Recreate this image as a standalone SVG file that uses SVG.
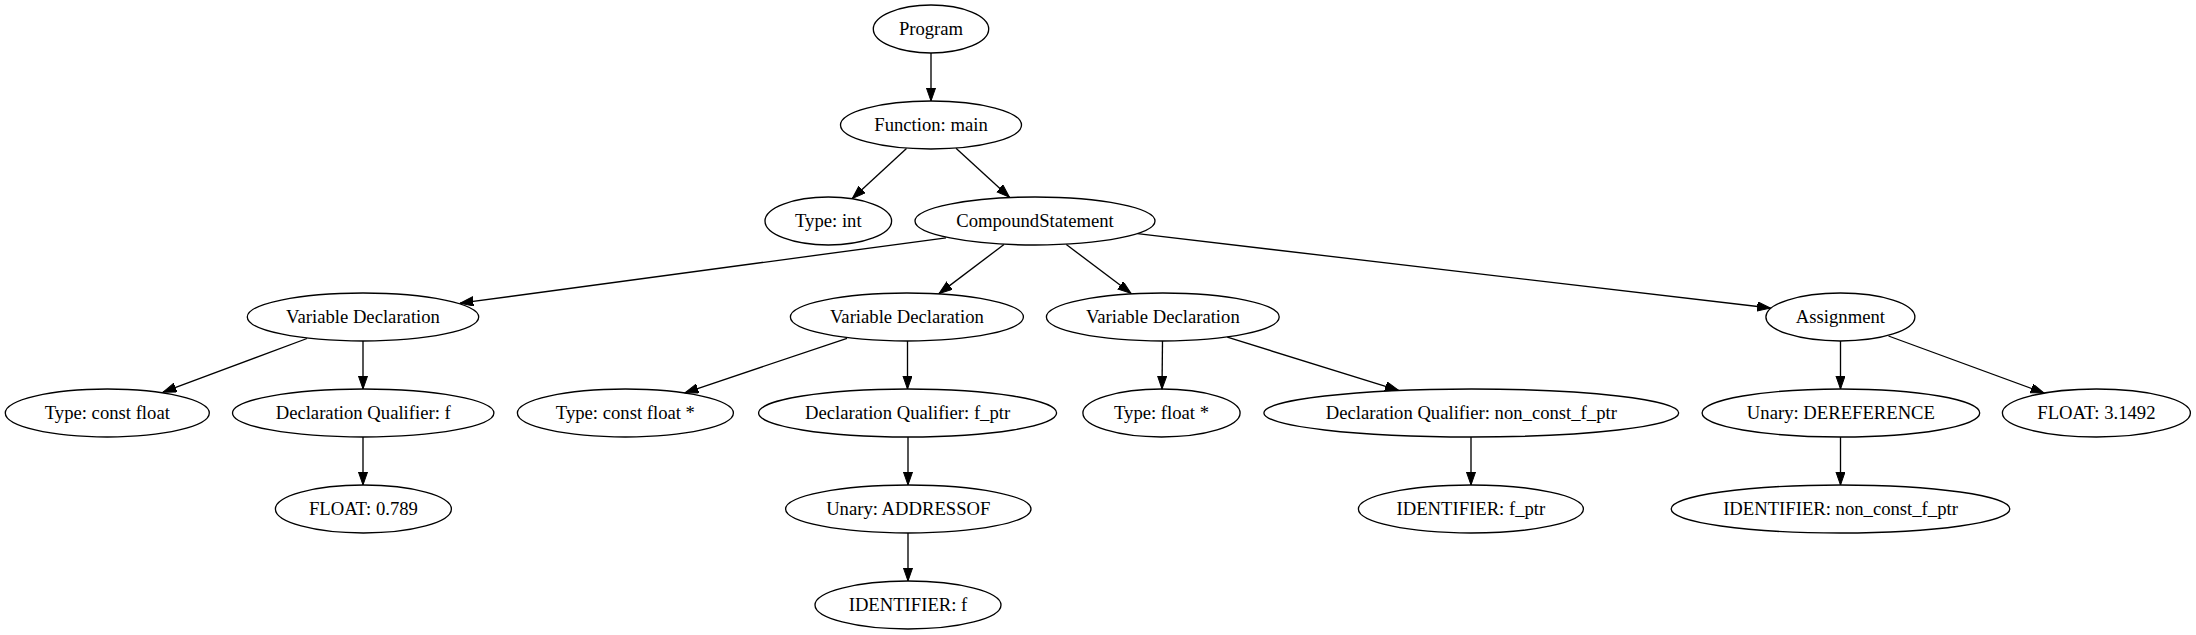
<svg xmlns="http://www.w3.org/2000/svg" width="2196" height="635" viewBox="0 0 2196 635">
<style>
.n ellipse{fill:none;stroke:#000;stroke-width:1.33}
.n text{font-family:"Liberation Serif","Times New Roman",serif;font-size:18.67px;text-anchor:middle;fill:#000}
#edges line{stroke:#000;stroke-width:1.33;marker-end:url(#ah)}
</style>
<defs>
<marker id="ah" markerUnits="userSpaceOnUse" markerWidth="14" markerHeight="10" refX="13.3" refY="4.67" orient="auto">
<path d="M0,0 L13.3,4.67 L0,9.33 z" fill="#000" stroke="#000" stroke-width="1"/>
</marker>
</defs>
<rect width="2196" height="635" fill="#fff"/>
<g id="edges">
<line x1="931" y1="53" x2="931" y2="101"/>
<line x1="906.5" y1="148.5" x2="852.3" y2="198.5"/>
<line x1="956" y1="148.3" x2="1009.5" y2="197.2"/>
<line x1="946" y1="237.8" x2="460" y2="303.2"/>
<line x1="1004" y1="244.5" x2="939" y2="293.6"/>
<line x1="1066.3" y1="244.5" x2="1131" y2="293.3"/>
<line x1="1137.5" y1="233.7" x2="1770.5" y2="308"/>
<line x1="307" y1="338.5" x2="163" y2="392.2"/>
<line x1="363" y1="341" x2="363" y2="389"/>
<line x1="363" y1="437" x2="363" y2="485"/>
<line x1="847" y1="338.3" x2="685" y2="392.8"/>
<line x1="907.5" y1="341" x2="907.5" y2="389"/>
<line x1="908" y1="437" x2="908" y2="485"/>
<line x1="908" y1="533" x2="908" y2="581"/>
<line x1="1162.5" y1="341" x2="1162" y2="389"/>
<line x1="1227.3" y1="337.2" x2="1398.5" y2="390.3"/>
<line x1="1471" y1="437" x2="1471" y2="485"/>
<line x1="1840.5" y1="341" x2="1840.5" y2="389"/>
<line x1="1888.5" y1="336" x2="2044" y2="393"/>
<line x1="1840.5" y1="437" x2="1840.5" y2="485"/>
</g>
<g id="n_program" class="n"><ellipse cx="931" cy="29" rx="57.7" ry="24"/><text x="931" y="35">Program</text></g>
<g id="n_function" class="n"><ellipse cx="931" cy="125" rx="90.5" ry="24"/><text x="931" y="131">Function: main</text></g>
<g id="n_type_int" class="n"><ellipse cx="828.3" cy="221" rx="63.3" ry="24"/><text x="828.3" y="227">Type: int</text></g>
<g id="n_compound" class="n"><ellipse cx="1035" cy="221" rx="120" ry="24"/><text x="1035" y="227">CompoundStatement</text></g>
<g id="n_vardecl1" class="n"><ellipse cx="363" cy="317" rx="115.7" ry="24"/><text x="363" y="323">Variable Declaration</text></g>
<g id="n_type_cf" class="n"><ellipse cx="107.3" cy="413" rx="102" ry="24"/><text x="107.3" y="419">Type: const float</text></g>
<g id="n_dq_f" class="n"><ellipse cx="363.2" cy="413" rx="130.7" ry="24"/><text x="363.2" y="419">Declaration Qualifier: f</text></g>
<g id="n_float1" class="n"><ellipse cx="363.4" cy="509" rx="88" ry="24"/><text x="363.4" y="515">FLOAT: 0.789</text></g>
<g id="n_vardecl2" class="n"><ellipse cx="906.9" cy="317" rx="116.5" ry="24"/><text x="906.9" y="323">Variable Declaration</text></g>
<g id="n_type_cfp" class="n"><ellipse cx="625.4" cy="413" rx="108" ry="24"/><text x="625.4" y="419">Type: const float *</text></g>
<g id="n_dq_fptr" class="n"><ellipse cx="907.6" cy="413" rx="149" ry="24"/><text x="907.6" y="419">Declaration Qualifier: f_ptr</text></g>
<g id="n_addrof" class="n"><ellipse cx="908.3" cy="509" rx="122.7" ry="24"/><text x="908.3" y="515">Unary: ADDRESSOF</text></g>
<g id="n_id_f" class="n"><ellipse cx="908" cy="605" rx="93" ry="24"/><text x="908" y="611">IDENTIFIER: f</text></g>
<g id="n_vardecl3" class="n"><ellipse cx="1162.8" cy="317" rx="116.4" ry="24"/><text x="1162.8" y="323">Variable Declaration</text></g>
<g id="n_type_fp" class="n"><ellipse cx="1161.5" cy="413" rx="78.6" ry="24"/><text x="1161.5" y="419">Type: float *</text></g>
<g id="n_dq_ncfp" class="n"><ellipse cx="1471.3" cy="413" rx="207.4" ry="24"/><text x="1471.3" y="419">Declaration Qualifier: non_const_f_ptr</text></g>
<g id="n_id_fptr" class="n"><ellipse cx="1470.9" cy="509" rx="112.5" ry="24"/><text x="1470.9" y="515">IDENTIFIER: f_ptr</text></g>
<g id="n_assign" class="n"><ellipse cx="1840.4" cy="317" rx="74.5" ry="24"/><text x="1840.4" y="323">Assignment</text></g>
<g id="n_deref" class="n"><ellipse cx="1840.9" cy="413" rx="138.8" ry="24"/><text x="1840.9" y="419">Unary: DEREFERENCE</text></g>
<g id="n_float2" class="n"><ellipse cx="2096.4" cy="413" rx="94" ry="24"/><text x="2096.4" y="419">FLOAT: 3.1492</text></g>
<g id="n_id_ncfp" class="n"><ellipse cx="1840.5" cy="509" rx="169.3" ry="24"/><text x="1840.5" y="515">IDENTIFIER: non_const_f_ptr</text></g>
</svg>
